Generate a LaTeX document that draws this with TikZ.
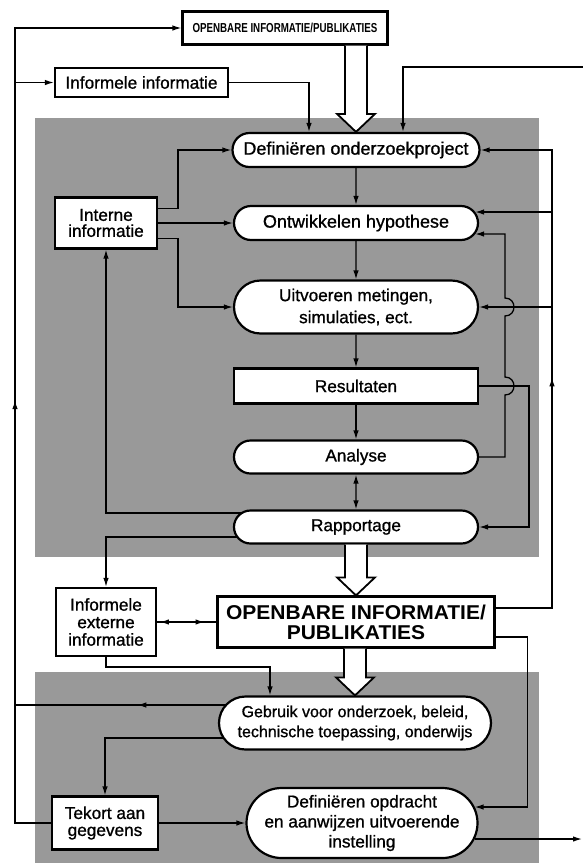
\documentclass[tikz,border=0pt]{standalone}
\usepackage{fontspec}
\setmainfont{Liberation Sans}
\newfontfamily\lblfamily{Liberation Sans}[FakeBold=1.0]
\newfontfamily\topfamily{Liberation Sans Bold}[FakeStretch=0.75]
\newfontfamily\pubfamily{Liberation Sans Bold}[FakeStretch=1.05]
\usetikzlibrary{calc,shapes.misc,arrows.meta,decorations.markings}
\pgfdeclarelayer{shade}
\pgfdeclarelayer{wires}
\pgfsetlayers{shade,wires,main}

\tikzset{
  >={Latex[length=9pt,width=5.5pt]},
  lbl/.style={font={\lblfamily\fontsize{17.2}{#1}\selectfont}},
  lbl/.default=17,
  box/.style={draw,line width=2.2pt,fill=white,inner sep=0pt,align=center,lbl},
  pill/.style={box,rounded rectangle},
  wire/.style={line width=1.3pt},
  hollow/.style={draw,fill=white,line width=1.8pt,line join=miter},
  shadefill/.style={fill=black!40},
  midarr/.style={postaction={decorate},
    decoration={markings,mark=at position #1 with {\arrow{>}}}},
  dblarr/.style={postaction={decorate},
    decoration={markings,mark=at position 0.2 with {\arrow{<}},
      mark=at position 0.8 with {\arrow{>}}}}
}

% wide open arrow from the bottom of #1 to the top of #2
\newcommand{\hollowarr}[2]{%
  \path[hollow] let \p1=(#2.north), \p2=(#1.south) in
    (\x1-11pt,\y2) -- (\x1-11pt,\y1+18pt) -- (\x1-19pt,\y1+18pt) -- (\x1,\y1)
    -- (\x1+19pt,\y1+18pt) -- (\x1+11pt,\y1+18pt) -- (\x1+11pt,\y2);}

\begin{document}
\begin{tikzpicture}[x=1pt,y=-1pt]
  \useasboundingbox (0,0) rectangle (583,863);
  \begin{pgfonlayer}{shade}
    \fill[shadefill] (35,118) rectangle (539,557);
    \fill[shadefill] (35,672) rectangle (539,863);
  \end{pgfonlayer}

  \node[box,font=\topfamily\fontsize{13}{14}\selectfont,minimum width=205pt,minimum height=33pt] (pubtop) at (285,28) {OPENBARE INFORMATIE/PUBLIKATIES};
  \node[box,minimum width=173pt,minimum height=29pt] (infinf) at (141.5,82.5) {Informele informatie};
  \node[pill,font=\lblfamily\fontsize{18}{18}\selectfont,minimum width=247pt,minimum height=34pt] (def) at (356,150) {Definiëren onderzoekproject};
  \node[pill,font=\lblfamily\fontsize{18}{18}\selectfont,minimum width=244pt,minimum height=34pt] (ontw) at (356,223) {Ontwikkelen hypothese};
  \node[box,lbl=16,minimum width=102pt,minimum height=51pt] (intern) at (106,223) {Interne\\informatie};
  \node[pill,lbl=22,minimum width=244pt,minimum height=53pt] (uitv) at (356,307) {Uitvoeren metingen,\\simulaties, ect.};
  \node[box,minimum width=244pt,minimum height=35pt] (result) at (356,386) {Resultaten};
  \node[pill,minimum width=244pt,minimum height=33pt] (analyse) at (356,457) {Analyse};
  \node[pill,minimum width=244pt,minimum height=33pt] (rapp) at (356,527) {Rapportage};
  \node[box,lbl=17.5,minimum width=100pt,minimum height=68pt] (iext) at (106,622) {Informele\\externe\\informatie};
  \node[box,font=\pubfamily\fontsize{20}{20}\selectfont,minimum width=277pt,minimum height=51pt] (pub2) at (356,622) {OPENBARE INFORMATIE/\\PUBLIKATIES};
  \node[pill,font=\lblfamily\fontsize{16}{20}\selectfont,minimum width=272pt,minimum height=53pt] (gebruik) at (355,723) {Gebruik voor onderzoek, beleid,\\technische toepassing, onderwijs};
  \node[box,minimum width=106pt,minimum height=53pt] (tekort) at (105,823) {Tekort aan\\gegevens};
  \node[pill,lbl=20,minimum width=231pt,minimum height=70pt] (defopd) at (362,823) {Definiëren opdracht\\en aanwijzen uitvoerende\\instelling};

  \coordinate (lbus) at (15,0);
  \coordinate (rbus) at (552,0);
  \coordinate (rin) at (583,67);
  \coordinate (rout) at (582,839);

  \begin{pgfonlayer}{wires}
    % outer loops
    \draw[wire,->,midarr=0.46] (tekort.west) -| (lbus |- pubtop.west) -- (pubtop.west);
    \draw[wire,->] (lbus |- infinf.west) -- (infinf.west);
    \draw[wire,->] (infinf.east) -| ($(def.north)+(-47,0)$);
    \draw[wire,->] (rin) -| ($(def.north)+(47,0)$);
    \draw[wire,->,midarr=0.49] ([yshift=14pt]pub2.east) -| (rbus |- def.east) -- (def.east);
    \draw[wire,->] ($(rbus |- ontw.east)+(0,-11)$) -- ($(ontw.east)+(-4,-11)$);
    \draw[wire,->] (rbus |- uitv.east) -- (uitv.east);
    % interne informatie
    \draw[wire,->] ([yshift=-12pt]intern.north east) -- ++(20,0) |- (def.west);
    \draw[wire,->] (intern.east) -- (ontw.west);
    \draw[wire,->] ([yshift=11pt]intern.south east) -- ++(20,0) |- (uitv.west);
    % main column
    \draw[wire,->] (def) -- (ontw);
    \draw[wire,->] (ontw) -- (uitv);
    \draw[wire,->] (uitv) -- (result);
    \draw[wire,->] (result) -- (analyse);
    \draw[wire,<->] (analyse) -- (rapp);
    \draw[wire,->] (result.east) -- ++(50,0) |- (rapp.east);
    \draw[wire,->] (analyse.east) -- (505,457) -- (505,395)
      .. controls (517,395) and (517,377) .. (505,377) -- (505,316)
      .. controls (517,316) and (517,298) .. (505,298) -- (505,234)
      -- ($(ontw.east)+(-4,11)$);
    \draw[wire,->] ($(rapp.west)+(8,-14)$) -| (intern.south);
    \draw[wire,->] ($(rapp.west)+(8,10)$) -| (iext.north);
    % lower part
    \draw[wire,dblarr] (iext) -- (pub2);
    \draw[wire,->] (iext.south) -- ++(0,10) -| ($(gebruik.north)+(-85,0)$);
    \draw[wire,midarr=0.42] ($(gebruik.west)+(8,-18)$) -- ($(lbus |- gebruik.west)+(0,-18)$);
    \draw[wire,->] ($(gebruik.west)+(8,15)$) -| (tekort.north);
    \draw[wire,->] (tekort.east) -- (defopd.west);
    \draw[wire,->] ([yshift=-15pt]pub2.east) -- ++(32,0) |- ($(defopd.east)+(-4,-16)$);
    \draw[wire,->] ($(defopd.east)+(-4,16)$) -- (rout);
  \end{pgfonlayer}

  \hollowarr{pubtop}{def}
  \hollowarr{rapp}{pub2}
  \hollowarr{pub2}{gebruik}
\end{tikzpicture}
\end{document}
